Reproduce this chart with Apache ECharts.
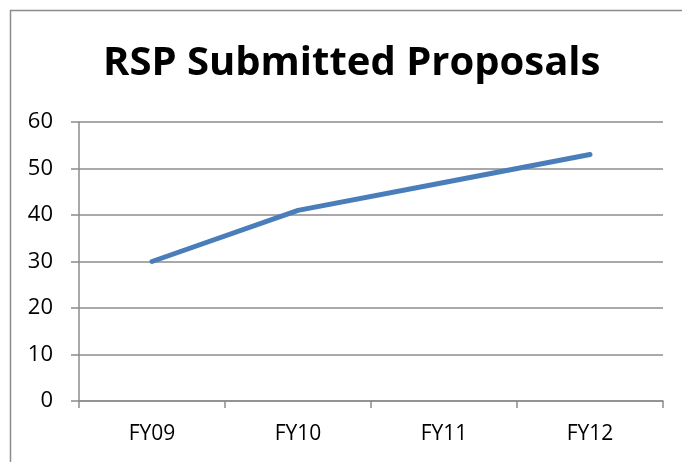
<!DOCTYPE html>
<html><head><meta charset="utf-8">
<script src="https://cdn.jsdelivr.net/npm/echarts@6/dist/echarts.min.js"></script>
<style>html,body{margin:0;padding:0;background:#fff}#c{width:682px;height:462px}</style>
</head><body><div id="c"></div>
<script>
var categories = ['FY09', 'FY10', 'FY11', 'FY12'];
var proposals = [30, 41, 47, 53];
var titleText = 'RSP Submitted Proposals';

var chart = echarts.init(document.getElementById('c'), null, {renderer: 'canvas'});
chart.setOption({
  animation: false,
  backgroundColor: '#fff',
  graphic: [{
    type: 'rect', shape: {x: 10.5, y: 10.5, width: 700, height: 500},
    style: {fill: 'none', stroke: '#8c8c8c', lineWidth: 1.5}, silent: true
  }],
  title: {
    text: titleText, left: 98, top: 39,
    textStyle: {fontFamily: 'Open Sans', fontWeight: 'bold', fontSize: 40, color: '#000'}
  },
  grid: {left: 79, right: 19, top: 122, bottom: 61},
  xAxis: {
    type: 'category', data: categories, boundaryGap: true,
    axisLine: {lineStyle: {color: '#8c8c8c', width: 1.5}},
    axisTick: {show: true, length: 7, lineStyle: {color: '#8c8c8c', width: 1.5}},
    axisLabel: {fontFamily: 'Open Sans', fontSize: 21, color: '#000', margin: 23}
  },
  yAxis: {
    type: 'value', min: 0, max: 60, interval: 10,
    axisLine: {show: true, lineStyle: {color: '#8c8c8c', width: 1.5}},
    axisTick: {show: true, length: 8, lineStyle: {color: '#8c8c8c', width: 1.5}},
    axisLabel: {fontFamily: 'Open Sans', fontSize: 22, color: '#000', margin: 26}
    , splitLine: {lineStyle: {color: '#8c8c8c', width: 1.5}}
  },
  series: [{
    type: 'line', data: proposals, showSymbol: false, symbol: 'none',
    lineStyle: {color: '#4a7ebb', width: 5, cap: 'round', join: 'round'}
  }]
});
</script></body></html>
